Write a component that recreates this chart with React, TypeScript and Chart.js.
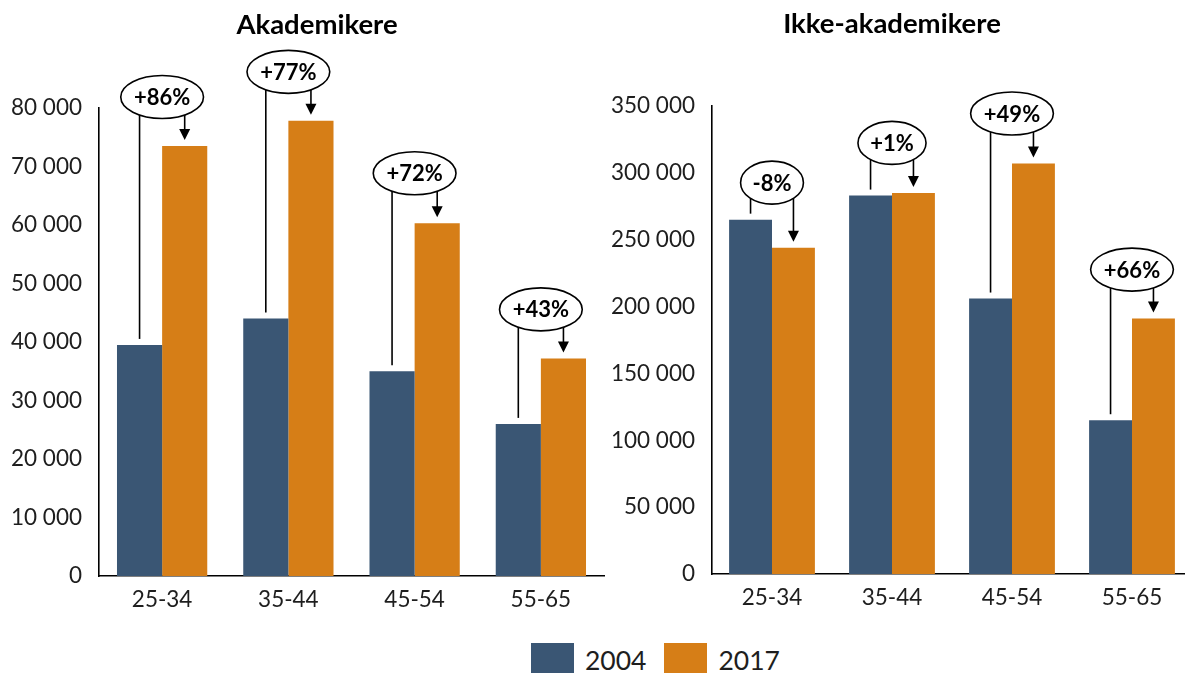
import { useEffect, useRef } from "react";
import { Chart, registerables } from "chart.js";

Chart.register(...registerables);

// ---- data ----
const AGE_GROUPS = ["25-34", "35-44", "45-54", "55-65"];
const YEARS = ["2004", "2017"];

const ACADEMICS_2004 = [39500, 44000, 35000, 26000];
const ACADEMICS_2017 = [73500, 77800, 60300, 37200];

const NON_ACADEMICS_2004 = [265000, 283000, 206000, 115000];
const NON_ACADEMICS_2017 = [244000, 285000, 307000, 191000];

const ACADEMICS_TICK_MAX = 80000;
const ACADEMICS_TICK_STEP = 10000;
const NON_ACADEMICS_TICK_MAX = 350000;
const NON_ACADEMICS_TICK_STEP = 50000;

// ---- styling ----
const COLOR_2004 = "#3a5674";
const COLOR_2017 = "#d67e17";
const TEXT_COLOR = "#1e1e1e";
const FONT = "Lato, 'Open Sans', sans-serif";

const formatThousands = (v: number) =>
  String(Math.round(v)).replace(/\B(?=(\d{3})+(?!\d))/g, " ");

const formatChange = (from: number, to: number) => {
  const pct = Math.round((to / from - 1) * 100);
  return (pct > 0 ? "+" : "") + pct + "%";
};

// Draws the chart heading centred on the canvas
const headingPlugin = (text: string, baseline: number) => ({
  id: "heading",
  afterDraw(chart: any) {
    const ctx = chart.ctx as CanvasRenderingContext2D;
    ctx.save();
    ctx.font = `bold 27.5px ${FONT}`;
    ctx.fillStyle = "#000";
    ctx.textAlign = "center";
    ctx.textBaseline = "alphabetic";
    ctx.fillText(text, chart.width / 2, baseline);
    ctx.restore();
  },
});

// Ellipse with the percentage change, a line down to the 2004 bar and an arrow to the 2017 bar
const calloutPlugin = (lifts: number[]) => ({
  id: "changeCallouts",
  afterDatasetsDraw(chart: any) {
    const ctx = chart.ctx as CanvasRenderingContext2D;
    const first = chart.getDatasetMeta(0).data;
    const second = chart.getDatasetMeta(1).data;
    const v0 = chart.data.datasets[0].data as number[];
    const v1 = chart.data.datasets[1].data as number[];
    ctx.save();
    ctx.font = `bold 22px ${FONT}`;
    for (let i = 0; i < first.length; i++) {
      const b: any = first[i];
      const a: any = second[i];
      const label = formatChange(v0[i], v1[i]);
      const tw = ctx.measureText(label).width;
      const rx = (tw * 1.15 + 18) / 2;
      const ry = 21.5;
      const cx = (b.x + a.x) / 2;
      const cy = Math.min(b.y, a.y) - lifts[i];
      const edgeY = (x: number) =>
        cy + ry * Math.sqrt(Math.max(0, 1 - ((x - cx) / rx) ** 2));

      ctx.strokeStyle = "#000";
      ctx.fillStyle = "#000";
      ctx.lineWidth = 1.6;

      // plain line to the 2004 bar
      ctx.beginPath();
      ctx.moveTo(b.x, edgeY(b.x));
      ctx.lineTo(b.x, b.y - 6);
      ctx.stroke();

      // arrow to the 2017 bar
      const tip = a.y - 6;
      ctx.beginPath();
      ctx.moveTo(a.x, edgeY(a.x));
      ctx.lineTo(a.x, tip - 9);
      ctx.stroke();
      ctx.beginPath();
      ctx.moveTo(a.x - 5.5, tip - 11);
      ctx.lineTo(a.x + 5.5, tip - 11);
      ctx.lineTo(a.x, tip);
      ctx.closePath();
      ctx.fill();

      // ellipse with label
      ctx.beginPath();
      ctx.ellipse(cx, cy, rx, ry, 0, 0, Math.PI * 2);
      ctx.fillStyle = "#fff";
      ctx.fill();
      ctx.stroke();
      ctx.fillStyle = "#000";
      ctx.textAlign = "center";
      ctx.textBaseline = "middle";
      ctx.fillText(label, cx, cy + 1);
    }
    ctx.restore();
  },
});

type PanelProps = {
  title: string;
  titleBaseline: number;
  first: number[];
  second: number[];
  max: number;
  step: number;
  axisWidth: number;
  padTop: number;
  padRight: number;
  xAxisHeight: number;
  lifts: number[];
  left: number;
  width: number;
  height: number;
};

function Panel(p: PanelProps) {
  const ref = useRef<HTMLCanvasElement | null>(null);
  useEffect(() => {
    if (!ref.current) return;
    const chart = new Chart(ref.current, {
      type: "bar",
      data: {
        labels: AGE_GROUPS,
        datasets: [
          {
            label: YEARS[0],
            data: p.first,
            backgroundColor: COLOR_2004,
            borderWidth: 0,
            categoryPercentage: 0.715,
            barPercentage: 1,
          },
          {
            label: YEARS[1],
            data: p.second,
            backgroundColor: COLOR_2017,
            borderWidth: 0,
            categoryPercentage: 0.715,
            barPercentage: 1,
          },
        ],
      },
      options: {
        animation: false,
        responsive: false,
        maintainAspectRatio: false,
        layout: { padding: { top: p.padTop, right: p.padRight, left: 0, bottom: 0 } },
        plugins: {
          legend: { display: false },
          tooltip: { enabled: false },
          title: { display: false },
        },
        scales: {
          x: {
            grid: { display: false, drawTicks: false },
            border: { display: true, color: "#000", width: 1.6 },
            ticks: {
              color: TEXT_COLOR,
              font: { family: FONT, size: 22.5 },
              padding: 10,
            },
            afterFit: (scale: any) => {
              scale.height = p.xAxisHeight;
            },
          },
          y: {
            min: 0,
            max: p.max,
            grid: { display: false, drawTicks: false },
            border: { display: true, color: "#000", width: 1.6 },
            ticks: {
              stepSize: p.step,
              color: TEXT_COLOR,
              font: { family: FONT, size: 22.5 },
              padding: 17,
              callback: (v: any) => formatThousands(Number(v)),
            },
            afterFit: (scale: any) => {
              scale.width = p.axisWidth;
            },
          },
        },
      },
      plugins: [headingPlugin(p.title, p.titleBaseline), calloutPlugin(p.lifts)],
    } as any);
    return () => chart.destroy();
  }, []);
  return (
    <canvas
      ref={ref}
      width={p.width}
      height={p.height}
      style={{ position: "absolute", left: p.left, top: 0, width: p.width, height: p.height }}
    />
  );
}

export default function App() {
  const legendColors = [COLOR_2004, COLOR_2017];
  return (
    <div
      style={{
        position: "fixed",
        left: 0,
        top: 0,
        width: 1185,
        height: 673,
        overflow: "hidden",
        background: "#fff",
      }}
    >
      <Panel
        title="Akademikere"
        titleBaseline={34}
        first={ACADEMICS_2004}
        second={ACADEMICS_2017}
        max={ACADEMICS_TICK_MAX}
        step={ACADEMICS_TICK_STEP}
        axisWidth={99}
        padTop={108}
        padRight={30}
        xAxisHeight={54}
        lifts={[49, 49, 50, 49]}
        left={0}
        width={634}
        height={630}
      />
      <Panel
        title="Ikke-akademikere"
        titleBaseline={33}
        first={NON_ACADEMICS_2004}
        second={NON_ACADEMICS_2017}
        max={NON_ACADEMICS_TICK_MAX}
        step={NON_ACADEMICS_TICK_STEP}
        axisWidth={120}
        padTop={106}
        padRight={0}
        xAxisHeight={56}
        lifts={[37, 50, 50, 49]}
        left={592}
        width={600}
        height={630}
      />
      <div
        style={{
          position: "absolute",
          left: 531,
          top: 643,
          display: "flex",
          alignItems: "flex-start",
          fontFamily: FONT,
          fontSize: 26.5,
          color: TEXT_COLOR,
        }}
      >
        {YEARS.map((y, i) => (
          <div key={y} style={{ display: "flex", alignItems: "center", marginRight: 18 }}>
            <div style={{ width: 43, height: 34, background: legendColors[i], marginRight: 11 }} />
            <span style={{ lineHeight: "34px" }}>{y}</span>
          </div>
        ))}
      </div>
    </div>
  );
}
